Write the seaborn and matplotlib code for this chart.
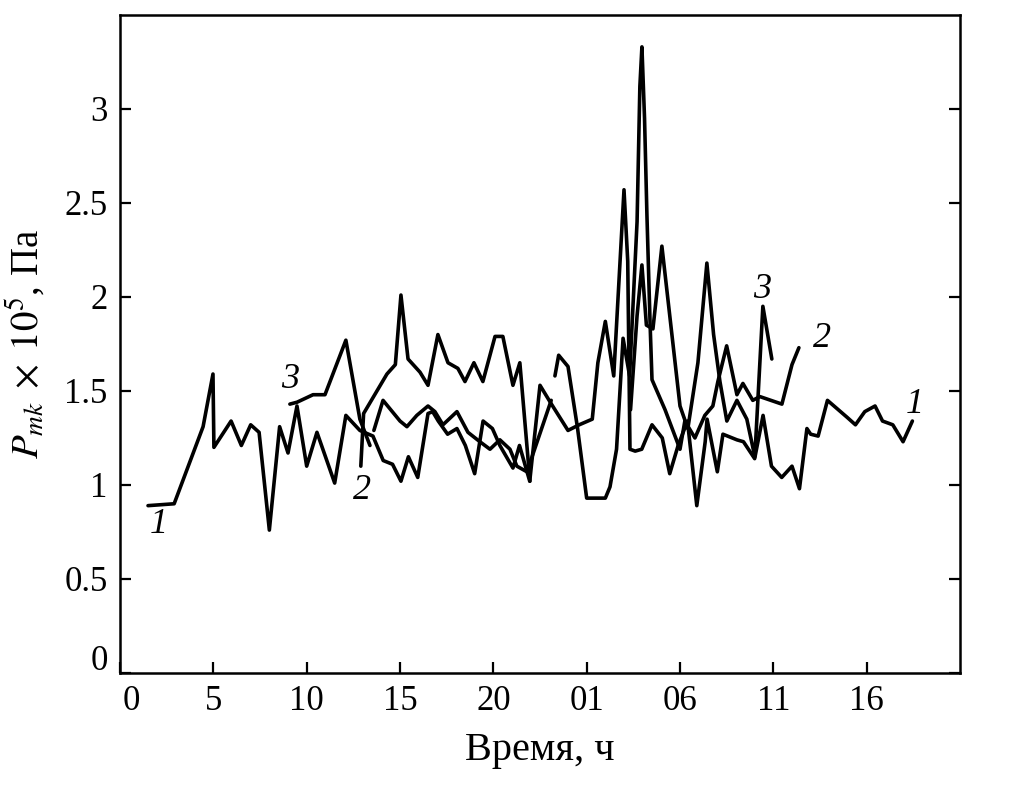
import numpy as np
import pandas as pd
import matplotlib
matplotlib.use("Agg")
import matplotlib.pyplot as plt
import matplotlib.transforms as mtransforms
import seaborn as sns

# time axis runs continuously 0..45 h, labels wrap past midnight
x_ticks = [0, 5, 10, 15, 20, 25, 30, 35, 40]
x_tick_labels = ["0", "5", "10", "15", "20", "01", "06", "11", "16"]
y_ticks = [0, 0.5, 1, 1.5, 2, 2.5, 3]
y_tick_labels = ["0", "0.5", "1", "1.5", "2", "2.5", "3"]

# curve 1
t1 = [1.5, 2.9, 4.45, 4.98, 5.03, 5.95, 6.5, 7.0, 7.45, 8.0,
      8.55, 9.0, 9.48, 10.0, 10.55, 11.5, 12.1, 12.85, 13.55, 14.1,
      14.6, 15.05, 15.45, 15.95, 16.5, 16.75, 17.05, 17.55, 18.05, 18.5,
      19.0, 19.45, 19.95, 20.35, 21.05, 21.4, 21.95, 22.5, 23.05, 24.0,
      24.6, 25.3, 25.6, 26.0, 26.45, 27.0, 27.2, 27.32, 27.6, 27.95,
      28.5, 29.05, 29.45, 29.9, 30.4, 30.9, 31.35, 31.45, 32.0, 32.3,
      33.05, 33.4, 34.0, 34.45, 34.9, 35.45, 36.0, 36.4, 36.8, 37.0,
      37.4, 37.9, 38.95, 39.4, 39.9, 40.45, 40.85, 41.4, 41.95, 42.45]
p1 = [0.89, 0.90, 1.31, 1.59, 1.20, 1.34, 1.21, 1.32, 1.28, 0.76,
      1.31, 1.17, 1.42, 1.10, 1.28, 1.01, 1.37, 1.29, 1.26, 1.13,
      1.11, 1.02, 1.15, 1.04, 1.38, 1.39, 1.34, 1.27, 1.30, 1.21,
      1.06, 1.34, 1.30, 1.21, 1.09, 1.21, 1.02, 1.53, 1.44, 1.29,
      1.32, 1.35, 1.65, 1.87, 1.58, 2.57, 2.19, 1.19, 1.18, 1.19,
      1.32, 1.25, 1.06, 1.21, 1.34, 0.89, 1.23, 1.35, 1.07, 1.27,
      1.24, 1.23, 1.14, 1.37, 1.10, 1.04, 1.10, 0.98, 1.30, 1.27,
      1.26, 1.45, 1.36, 1.32, 1.39, 1.42, 1.34, 1.32, 1.23, 1.34]

# curve 2 (nan = gap in record)
t2 = [12.9, 13.05, 14.3, 14.75, 15.05, 15.43, 16.07, 16.5, 17.03, 17.57,
      18.1, 18.48, 18.96, 19.44, 20.09, 20.51, 21.05, 21.42, 21.96, np.nan,
      23.3, 23.5, 24.0, 24.5, 25.0, 26.0, 26.25, 26.6, 26.95, 27.3,
      27.7, 27.85, 27.96, 28.1, 28.23, 28.4, 28.5, 29.2, 30.0, 30.26,
      30.8, 31.33, 31.76, 32.03, 32.5, 33.05, 33.37, 33.9, 34.28, 35.46,
      36.0, 36.37]
p2 = [1.10, 1.38, 1.59, 1.64, 2.01, 1.67, 1.60, 1.53, 1.80, 1.65,
      1.62, 1.55, 1.65, 1.55, 1.79, 1.79, 1.53, 1.65, 1.02, np.nan,
      1.58, 1.69, 1.63, 1.31, 0.93, 0.93, 0.99, 1.19, 1.78, 1.58,
      2.40, 3.12, 3.33, 2.95, 2.43, 1.85, 1.56, 1.40, 1.19, 1.34,
      1.25, 1.37, 1.42, 1.55, 1.74, 1.48, 1.54, 1.45, 1.47, 1.43,
      1.64, 1.73]

# curve 3
t3 = [9.1, 9.48, 10.34, 10.98, 12.1, 12.85, 13.39, np.nan, 13.6, 14.09,
      15.0, 15.37, 15.9, 16.5, 16.87, 17.3, 18.05, 18.64, 19.28, 19.82,
      20.35, 20.89, 21.26, 21.8, 23.1, np.nan, 27.35, 27.7, 27.96, 28.2,
      28.55, 29.03, 30.0, 30.42, 30.96, 31.44, 31.8, 32.14, 32.51, 33.05,
      33.58, 34.01, 34.44, 34.92]
p3 = [1.43, 1.44, 1.48, 1.48, 1.77, 1.35, 1.21, np.nan, 1.29, 1.45,
      1.34, 1.31, 1.37, 1.42, 1.39, 1.32, 1.39, 1.28, 1.23, 1.19,
      1.24, 1.19, 1.10, 1.07, 1.45, np.nan, 1.40, 1.90, 2.17, 1.85,
      1.83, 2.27, 1.42, 1.30, 1.65, 2.18, 1.80, 1.55, 1.34, 1.45,
      1.35, 1.15, 1.95, 1.67]

curve_labels = ["1", "2", "3"]
label_start = [(2.1, 0.79), (12.95, 0.97), (9.1, 1.56)]
label_end = [(42.6, 1.43), (37.6, 1.78), (34.4, 2.04)]


def to_frame(name, t, p):
    df = pd.DataFrame({"t": t, "p": p})
    df["seg"] = df["t"].isna().cumsum()
    df = df.dropna()
    df["unit"] = name + "_" + df["seg"].astype(str)
    return df


data = pd.concat([to_frame(n, t, p) for n, t, p in
                  zip(curve_labels, [t1, t2, t3], [p1, p2, p3])],
                 ignore_index=True)

sns.set_style("ticks")
plt.rcParams["font.family"] = ["Liberation Serif", "DejaVu Serif"]
plt.rcParams["mathtext.fontset"] = "stix"
plt.rcParams["text.color"] = "black"
plt.rcParams["axes.labelcolor"] = "black"

fig = plt.figure(figsize=(10.12, 7.85), dpi=100)
ax = fig.add_axes([0.1186, 0.1427, 0.8300, 0.8383])

sns.lineplot(data=data, x="t", y="p", units="unit", estimator=None,
             sort=False, color="black", linewidth=2.6, ax=ax)

for lab, (xs, ys), (xe, ye) in zip(curve_labels, label_start, label_end):
    ax.text(xs, ys, lab, fontsize=26, style="italic", ha="center", va="center")
    ax.text(xe, ye, lab, fontsize=26, style="italic", ha="center", va="center")

ax.set_xlim(0, 45)
ax.set_ylim(0, 3.5)
ax.set_xticks(x_ticks)
ax.set_xticklabels(x_tick_labels)
ax.set_yticks(y_ticks)
ax.set_yticklabels(y_tick_labels)
ax.tick_params(axis="both", direction="in", length=8, width=1.6,
               labelsize=25, right=True, pad=9, colors="black")
for s in ax.spines.values():
    s.set_linewidth(1.8)
    s.set_color("black")

# the zero labels sit slightly off their ticks in the original
ax.get_xticklabels()[0].set_transform(
    ax.get_xticklabels()[0].get_transform()
    + mtransforms.ScaledTranslation(11 / 100, 0, fig.dpi_scale_trans))
ax.get_yticklabels()[0].set_transform(
    ax.get_yticklabels()[0].get_transform()
    + mtransforms.ScaledTranslation(0, 15 / 100, fig.dpi_scale_trans))

ax.set_xlabel("Время, ч", fontsize=29, labelpad=10)
ax.set_ylabel(r"$P_{mk}\;\times\;10^{5}$, Па", fontsize=28, labelpad=12)

fig.savefig("out.png", dpi=100)
